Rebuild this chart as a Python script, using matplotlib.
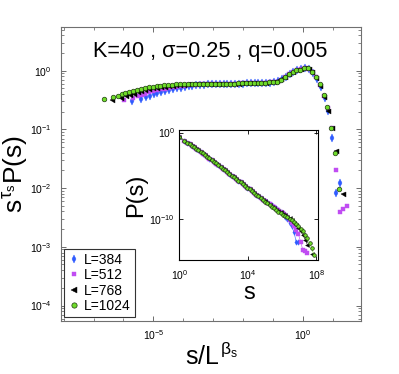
import numpy as np
import matplotlib
matplotlib.use('Agg')
import matplotlib.pyplot as plt
from matplotlib.ticker import FixedLocator, NullFormatter, LogFormatterSciNotation

plt.rcParams['font.family'] = ['Liberation Sans', 'DejaVu Sans']
plt.rcParams['mathtext.fontset'] = 'custom'
plt.rcParams['mathtext.rm'] = 'Liberation Sans'
plt.rcParams['mathtext.it'] = 'Liberation Sans'
plt.rcParams['mathtext.sf'] = 'Liberation Sans'

# ---- data (log10 values) ----
# log-binned avalanche sizes, log10(s)
log_s = [0.0, 0.301, 0.477, 0.602, 0.72, 0.85, 0.98, 1.11, 1.24, 1.37,
         1.50, 1.63, 1.76, 1.89, 2.02, 2.15, 2.28, 2.41, 2.54, 2.67,
         2.80, 2.93, 3.06, 3.19, 3.32, 3.45, 3.58, 3.71, 3.84, 3.97,
         4.10, 4.23, 4.36, 4.49, 4.62, 4.75, 4.88, 5.01, 5.14, 5.27,
         5.40, 5.53, 5.66, 5.79, 5.92, 6.05, 6.18, 6.31, 6.44, 6.57,
         6.70, 6.83, 6.96, 7.09, 7.22, 7.35, 7.48, 7.61, 7.74, 7.87]

L_sizes = [384, 512, 768, 1024]
series_labels = ['L=384', 'L=512', 'L=768', 'L=1024']
beta_s = 2.21   # s/L^beta_s
tau_s = 1.55    # s^tau_s P(s)

# log10( s^tau_s P(s) ) per system size, one value per bin of log_s
logF_384 = [-0.52, -0.48, -0.45, -0.425, -0.403, -0.380, -0.360, -0.343, -0.327, -0.313,
            -0.300, -0.288, -0.278, -0.268, -0.259, -0.251, -0.244, -0.238, -0.233, -0.229,
            -0.226, -0.224, -0.223, -0.222, -0.221, -0.220, -0.219, -0.218, -0.216, -0.214,
            -0.212, -0.210, -0.207, -0.204, -0.201, -0.197, -0.180, -0.143, -0.103, -0.055,
            -0.018, 0.006, 0.022, 0.046, 0.030, -0.035, -0.135, -0.270, -0.460, -0.680,
            -1.150, -2.090, -1.910]
logF_512 = [-0.50, -0.465, -0.435, -0.41, -0.390, -0.368, -0.349, -0.332, -0.317, -0.303,
            -0.291, -0.280, -0.270, -0.261, -0.253, -0.246, -0.240, -0.235, -0.231, -0.228,
            -0.226, -0.224, -0.223, -0.222, -0.222, -0.221, -0.220, -0.219, -0.218, -0.217,
            -0.215, -0.213, -0.211, -0.209, -0.206, -0.203, -0.200, -0.196, -0.185, -0.150,
            -0.108, -0.060, -0.020, 0.004, 0.022, 0.046, 0.032, -0.025, -0.115, -0.240,
            -0.430, -0.640, -0.980, -1.690, -2.410, -2.360, -2.310]
logF_768 = [-0.50, -0.465, -0.435, -0.41, -0.388, -0.367, -0.347, -0.330, -0.315, -0.302,
            -0.290, -0.279, -0.269, -0.260, -0.252, -0.245, -0.240, -0.235, -0.231, -0.228,
            -0.226, -0.224, -0.223, -0.222, -0.222, -0.221, -0.221, -0.220, -0.220, -0.219,
            -0.218, -0.218, -0.217, -0.215, -0.213, -0.211, -0.209, -0.206, -0.203, -0.200,
            -0.195, -0.180, -0.143, -0.103, -0.055, -0.017, 0.007, 0.023, 0.048, 0.032,
            -0.030, -0.125, -0.255, -0.440, -0.680, -0.980, -1.360, np.nan, -2.100]
logF_1024 = [-0.49, -0.455, -0.425, -0.40, -0.378, -0.357, -0.338, -0.322, -0.307, -0.294,
             -0.282, -0.272, -0.262, -0.254, -0.247, -0.241, -0.236, -0.232, -0.229, -0.227,
             -0.225, -0.223, -0.222, -0.222, -0.221, -0.221, -0.220, -0.220, -0.220, -0.219,
             -0.219, -0.218, -0.218, -0.217, -0.216, -0.215, -0.213, -0.211, -0.209, -0.206,
             -0.203, -0.200, -0.195, -0.185, -0.150, -0.110, -0.062, -0.022, 0.004, 0.020,
             0.045, 0.038, -0.022, -0.110, -0.230, -0.410, -0.610, -0.970, -1.400, -2.020]

logF_all = [logF_384, logF_512, logF_768, logF_1024]

styles = [
    dict(marker='d', color='#2f5bff', mec='#2f5bff', mew=0.3),
    dict(marker='s', color='#c04cf2', mec='#c04cf2', mew=0.3),
    dict(marker='<', color='#000000', mec='#000000', mew=0.3),
    dict(marker='o', color='#6fdc2a', mec='#1e3a10', mew=0.5),
]
main_ms = [3.6, 2.6, 3.6, 3.3]
inset_ms = [2.8, 2.2, 2.8, 2.6]

fig = plt.figure(figsize=(3.99, 3.74), dpi=100)
ax = fig.add_axes([0.1529, 0.1417, 0.7519, 0.7861])

for L, logF, st, ms, lab in zip(L_sizes, logF_all, styles, main_ms, series_labels):
    n = len(logF)
    s = 10 ** np.array(log_s[:n])
    F = 10 ** np.array(logF, dtype=float)
    ax.plot(s / L ** beta_s, F, ls='none', ms=ms, label=lab, **st)

ax.set_xscale('log')
ax.set_yscale('log')
ax.set_xlim(10 ** -8.09, 10 ** 1.95)
ax.set_ylim(10 ** -4.264, 10 ** 0.745)
ax.xaxis.set_major_locator(FixedLocator([1e-5, 1e0]))
ax.xaxis.set_minor_locator(FixedLocator([1e-8, 1e-7, 1e-6, 1e-4, 1e-3, 1e-2, 1e-1, 1e1]))
ax.xaxis.set_minor_formatter(NullFormatter())
ax.xaxis.set_major_formatter(LogFormatterSciNotation())
ax.yaxis.set_major_locator(FixedLocator([1e-4, 1e-3, 1e-2, 1e-1, 1e0]))
ymin = [k * 10.0 ** e for e in range(-5, 1) for k in range(2, 10)]
ax.yaxis.set_minor_locator(FixedLocator(ymin))
ax.yaxis.set_minor_formatter(NullFormatter())
ax.yaxis.set_major_formatter(LogFormatterSciNotation())
ax.tick_params(which='both', direction='in', top=True, right=True, labelsize=7.5,
               color='#555555')
ax.tick_params(which='major', length=3.5, width=0.6)
ax.tick_params(which='minor', length=2, width=0.5)
ax.tick_params(axis='y', pad=7)
ax.tick_params(axis='x', pad=5)
for sp in ax.spines.values():
    sp.set_color('#707070')
    sp.set_linewidth(0.8)

ax.set_xlabel(r'$s/L^{\beta_s}$', fontsize=18)
ax.xaxis.set_label_coords(0.5, -0.075)
ax.set_ylabel(r'$s^{\tau_s}P(s)$', fontsize=19)
ax.yaxis.set_label_coords(-0.105, 0.5)
ax.text(0.497, 0.897, 'K=40 , σ=0.25 , q=0.005', transform=ax.transAxes,
        ha='center', va='baseline', fontsize=15.6)

leg = ax.legend(loc='lower left', bbox_to_anchor=(0.01, 0.0126), borderaxespad=0,
                frameon=True, fancybox=False, edgecolor='#333333', framealpha=1,
                fontsize=10, handlelength=0.8, handletextpad=0.35, borderpad=0.3,
                labelspacing=0.1, markerscale=1.15)
leg.get_frame().set_linewidth(0.8)

# ---- inset: P(s) vs s ----
ax2 = fig.add_axes([0.4494, 0.3048, 0.3484, 0.3476])
for L, logF, st, ms in zip(L_sizes, logF_all, styles, inset_ms):
    n = len(logF)
    s = 10 ** np.array(log_s[:n])
    F = 10 ** np.array(logF, dtype=float)
    ax2.plot(s, F * s ** (-tau_s), ls='-', lw=0.4, ms=ms, **st)

ax2.set_xscale('log')
ax2.set_yscale('log')
ax2.set_xlim(1, 10 ** 8.12)
ax2.set_ylim(10 ** -14.74, 10 ** 0.3)
ax2.xaxis.set_major_locator(FixedLocator([1e0, 1e4, 1e8]))
ax2.xaxis.set_minor_locator(FixedLocator([]))
ax2.yaxis.set_major_locator(FixedLocator([1e-10, 1e0]))
ax2.yaxis.set_minor_locator(FixedLocator([]))
ax2.xaxis.set_major_formatter(LogFormatterSciNotation())
ax2.yaxis.set_major_formatter(LogFormatterSciNotation())
ax2.tick_params(which='both', direction='in', top=True, right=True, labelsize=7.5,
                length=3, width=0.6)
ax2.tick_params(axis='y', pad=3)
ax2.tick_params(axis='x', pad=6)
for sp in ax2.spines.values():
    sp.set_color('black')
    sp.set_linewidth(0.8)
ax2.set_xlabel('s', fontsize=17, labelpad=0)
ax2.set_ylabel('P(s)', fontsize=17)
ax2.yaxis.set_label_coords(-0.232, 0.5)

fig.savefig('out.png', dpi=100)
